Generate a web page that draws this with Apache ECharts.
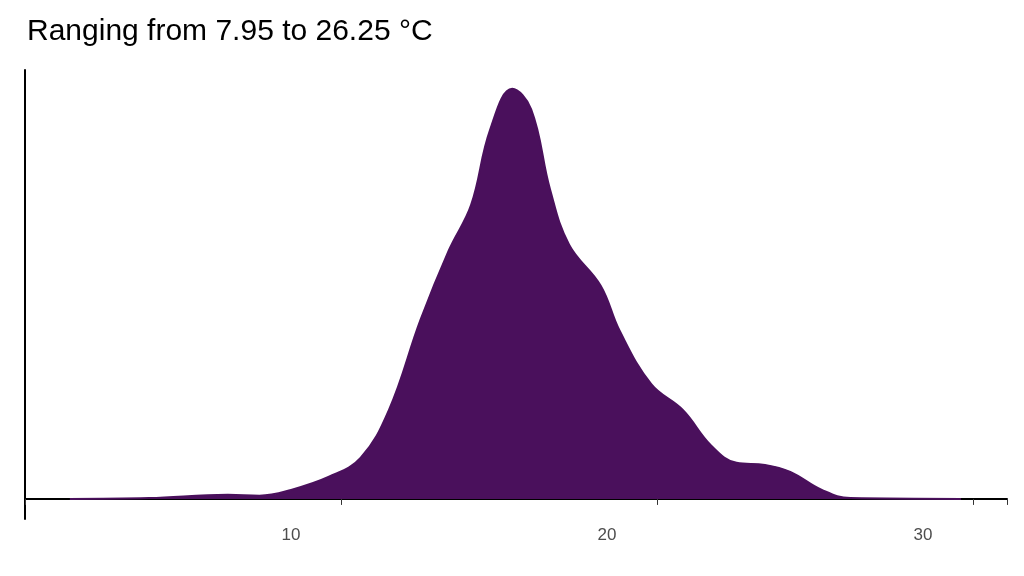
<!DOCTYPE html>
<html><head><meta charset="utf-8">
<script src="https://cdn.jsdelivr.net/npm/echarts@6/dist/echarts.min.js"></script>
<style>html,body{margin:0;padding:0;background:#fff}#c{width:1024px;height:576px}</style>
</head><body><div id="c"></div>
<script>
// temperature (°C) and relative density
const temps = [3.0,5.5,8.0,9.0,10.0,11.2,12.2,13.1,14.1,15.0,15.7,16.3,17.0,17.6,18.2,18.8,19.8,20.4,21.4,22.4,23.3,24.1,25.0,25.8,26.8,27.7,31.2];
const density = [0,0.002,0.01,0.008,0.022,0.054,0.1,0.217,0.437,0.607,0.717,0.9,1.0,0.95,0.754,0.62,0.52,0.41,0.28,0.217,0.13,0.088,0.083,0.066,0.022,0.002,0];
const xTicks = [10,20,30];

const chart = echarts.init(document.getElementById('c'));
chart.setOption({
  animation: false,
  title: {text: 'Ranging from 7.95 to 26.25 °C', left: 22, top: 12,
    textStyle: {fontFamily: 'Arial, Liberation Sans', fontSize: 30, fontWeight: 'normal', color: '#000'}},
  grid: {left: 25, right: 17, top: 70, bottom: 57},
  xAxis: {type: 'value', min: 1.58, max: 32.66, interval: 10,
    axisLine: {lineStyle: {color: '#000', width: 2}},
    axisTick: {length: 6, lineStyle: {color: '#333'}},
    axisLabel: {color: '#4d4d4d', fontSize: 17, fontFamily: 'Liberation Sans',
      customValues: xTicks},
    splitLine: {show: false}},
  yAxis: {type: 'value', min: -0.049, max: 1.046,
    axisLine: {show: true, lineStyle: {color: '#000', width: 2}},
    axisTick: {show: false}, axisLabel: {show: false}, splitLine: {show: false}},
  series: [{type: 'line', smooth: 0.4, symbol: 'none',
    data: temps.map((t, i) => [t, density[i]]),
    lineStyle: {color: '#4A105C', width: 2},
    areaStyle: {color: '#4A105C', opacity: 1, origin: 0}}]
});
</script></body></html>
